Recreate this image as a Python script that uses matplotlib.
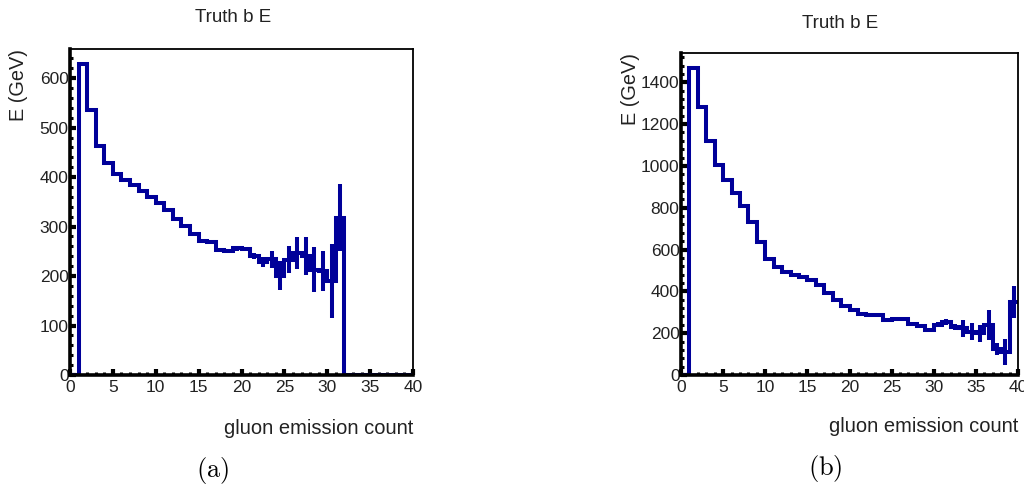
import numpy as np
import matplotlib.pyplot as plt
from matplotlib.ticker import MultipleLocator

plt.rcParams['font.family'] = ['Liberation Sans', 'DejaVu Sans']
plt.rcParams['mathtext.fontset'] = 'cm'

# one bin per gluon emission count, 0..40
edges = np.arange(0, 41)

# (a) mean truth b energy per bin and its error
E_a = [0, 628, 535, 463, 428, 406, 395, 385, 372, 360,
       348, 333, 316, 301, 286, 270, 268, 253, 250, 256,
       254, 240, 229, 234, 201, 233, 247, 240, 213, 210,
       190, 318, 0, 0, 0, 0, 0, 0, 0, 0]
err_a = [0, 3, 3, 3, 3, 3, 3, 3, 3, 3,
         3, 3, 3, 3, 3, 3, 4, 4, 4, 5,
         4, 6, 10, 17, 30, 27, 32, 38, 45, 40,
         75, 68, 0, 0, 0, 0, 0, 0, 0, 0]

# (b)
E_b = [0, 1467, 1284, 1121, 1005, 931, 872, 808, 732, 636,
       557, 517, 493, 477, 469, 453, 430, 393, 358, 329,
       310, 294, 286, 286, 262, 266, 268, 245, 235, 215,
       240, 255, 231, 223, 207, 199, 239, 125, 110, 350]
err_b = [0, 5, 5, 5, 5, 5, 5, 5, 5, 5,
         5, 5, 5, 5, 5, 5, 5, 5, 5, 5,
         5, 5, 5, 5, 5, 5, 8, 8, 8, 10,
         12, 15, 15, 40, 40, 40, 70, 30, 60, 75]

title = "Truth b E"
ylabel = "E (GeV)"
xlabel = "gluon emission count"

col = '#000099'
W, H = 1024, 487

panels = [
    # axes box in pixels (left, right, top, bottom), ylim, y major, tag
    dict(E=E_a, err=err_a, box=(70, 413, 49, 375), ymax=659, ymaj=100,
         title_x=233, title_y=17, ylab_x=18, xlab_y=428, tag='(a)', tag_x=213, tag_y=471),
    dict(E=E_b, err=err_b, box=(681, 1018, 53, 375), ymax=1540, ymaj=200,
         title_x=840, title_y=23, ylab_x=631, xlab_y=427, tag='(b)', tag_x=825, tag_y=468),
]

fig = plt.figure(figsize=(W / 100, H / 100), dpi=100)

for p in panels:
    x0, x1, top, bot = p['box']
    ax = fig.add_axes([x0 / W, 1 - bot / H, (x1 - x0) / W, (bot - top) / H])

    E = np.array(p['E'], dtype=float)
    err = np.array(p['err'], dtype=float)
    centers = edges[:-1] + 0.5

    ax.stairs(E, edges, baseline=None, color=col, linewidth=2.9, zorder=2)
    ax.vlines(centers, E - err, E + err, color=col, linewidth=2.9, zorder=2)

    ax.set_xlim(0, 40)
    ax.set_ylim(0, p['ymax'])
    ax.xaxis.set_major_locator(MultipleLocator(5))
    ax.xaxis.set_minor_locator(MultipleLocator(1))
    ax.yaxis.set_major_locator(MultipleLocator(p['ymaj']))
    ax.yaxis.set_minor_locator(MultipleLocator(p['ymaj'] / 5))

    ax.tick_params(which='major', direction='in', length=4.5, width=3,
                   labelsize=12.5, labelcolor='#222222')
    ax.tick_params(which='minor', direction='in', length=2.2, width=2.2)
    ax.tick_params(axis='y', which='major', pad=1)
    ax.tick_params(axis='x', which='major', pad=3.5)

    for s in ['left', 'bottom']:
        ax.spines[s].set_linewidth(2.6)
    for s in ['top', 'right']:
        ax.spines[s].set_linewidth(1.3)

    fig.text(p['title_x'] / W, 1 - p['title_y'] / H, title, fontsize=13.5,
             ha='center', va='center', color='#222222')
    fig.text(p['ylab_x'] / W, 1 - top / H, ylabel, fontsize=14.3, rotation=90,
             ha='center', va='top', color='#222222')
    fig.text(x1 / W, 1 - p['xlab_y'] / H, xlabel, fontsize=14.5,
             ha='right', va='center', color='#222222')
    fig.text(p['tag_x'] / W, 1 - p['tag_y'] / H, r'$\mathrm{' + p['tag'] + '}$',
             fontsize=19, ha='center', va='center')

fig.savefig('out.png', dpi=100)
